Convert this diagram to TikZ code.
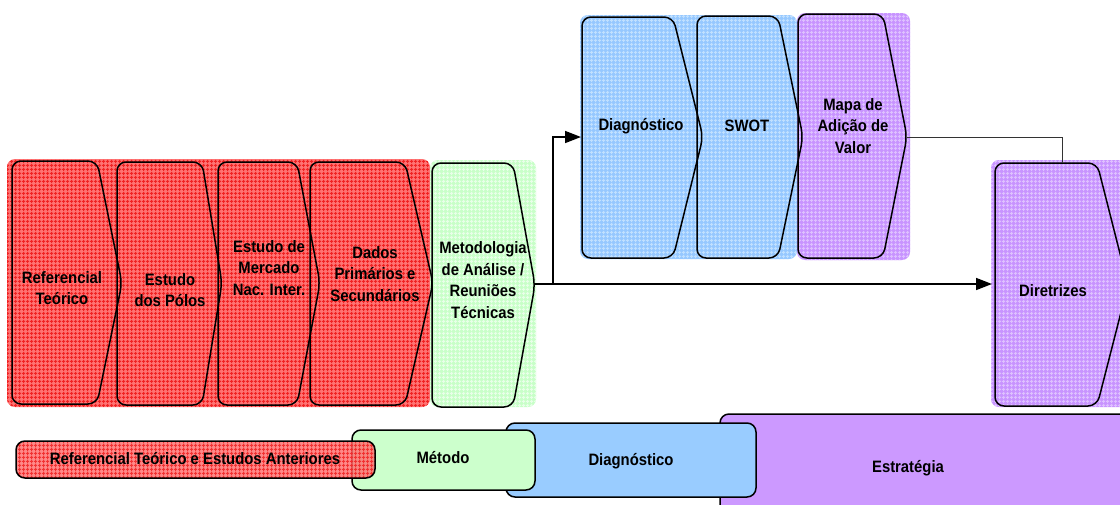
\documentclass[tikz,border=0pt]{standalone}
\usepackage{fontspec}
\setmainfont[FakeStretch=0.9]{Liberation Sans}
\usetikzlibrary{arrows.meta,patterns.meta}
\definecolor{redbase}{RGB}{255,115,115}
\definecolor{redline}{RGB}{240,35,35}
\definecolor{bluebase}{RGB}{150,200,255}
\definecolor{blueline}{RGB}{192,224,255}
\definecolor{purpbase}{RGB}{200,148,255}
\definecolor{purpline}{RGB}{222,192,255}
\definecolor{greenbase}{RGB}{200,255,200}
\definecolor{greenline}{RGB}{232,255,232}
\definecolor{bblue}{RGB}{153,204,255}
\definecolor{bgreen}{RGB}{204,255,204}
\definecolor{bpurp}{RGB}{204,153,255}
\newcommand{\gridbox}[6]{%
  \fill[#5,rounded corners=8pt] (#1,#2) rectangle (#3,#4);
  \fill[pattern={Hatch[angle=0,distance=4pt,line width=1.1pt]},pattern color=#6,rounded corners=8pt] (#1,#2) rectangle (#3,#4);}
\newcommand{\chevshape}[6]{%
  \draw[chev] (#1,#2) -- (#3,#2) -- (#4,#6) -- (#3,#5) -- (#1,#5) -- cycle;}
\tikzset{
  chev/.style={draw=black,line width=1.5pt,rounded corners=9pt},
  lbl/.style={font=\fontsize{16.5}{21.5}\selectfont\bfseries,align=center,inner sep=0pt,text=black},
  bar/.style={draw=black,line width=1.5pt,rounded corners=9pt},
  arr/.style={draw=black,line width=1.6pt,-{Triangle[length=16pt,width=12pt]}},
  thinln/.style={draw=black!80,line width=0.8pt}
}
\begin{document}
\begin{tikzpicture}[x=1pt,y=-1pt]
\useasboundingbox (0,0) rectangle (1120,504);
\clip (0,0) rectangle (1120,504);
% backgrounds
\gridbox{7}{159}{430}{407}{redbase}{redline}
\gridbox{430}{160}{536}{407}{greenbase}{greenline}
\gridbox{580}{15}{797}{259}{bluebase}{blueline}
\gridbox{797}{13}{910}{260}{purpbase}{purpline}
\gridbox{991}{160}{1140}{407}{purpbase}{purpline}
% chevrons
\chevshape{12}{161}{97}{122}{404}{283}
\chevshape{117}{162}{202}{222}{405}{283}
\chevshape{218}{162}{297}{320}{405}{283}
\chevshape{310}{162}{405}{433}{405}{283}
\chevshape{432}{163}{513}{535}{407}{285}
\chevshape{582}{17}{673}{703}{258}{137}
\chevshape{697}{16}{778}{803}{258}{137}
\chevshape{798}{14}{883}{907}{258}{137}
\chevshape{995}{163}{1097}{1128}{406}{285}
% labels
\node[lbl] (ref) at (62,288) {Referencial\\Teórico};
\node[lbl] (polos) at (170,290) {Estudo\\dos Pólos};
\node[lbl] (merc) at (269,268) {Estudo de\\Mercado\\Nac. Inter.};
\node[lbl] (dados) at (375,274) {Dados\\Primários e\\Secundários};
\node[lbl] (metod) at (483,280) {Metodologia\\de Análise /\\Reuniões\\Técnicas};
\node[lbl] (diag) at (641,126) {Diagnóstico};
\node[lbl] (swot) at (747,126) {SWOT};
\node[lbl] (mapa) at (853,126) {Mapa de\\Adição de\\Valor};
\node[lbl] (dir) at (1053,291) {Diretrizes};
% connectors
\coordinate (metTip) at (535,284);
\coordinate (branch) at (553,284);
\coordinate (diagL) at (581,137);
\coordinate (dirL) at (992,284);
\coordinate (mapaTip) at (907,137);
\coordinate (dirTop) at (1062,163);
\draw[arr] (metTip) -- (dirL);
\draw[arr] (branch) |- (diagL);
\draw[thinln] (mapaTip) -| (dirTop);
% bottom bars
\draw[bar,fill=bpurp] (720,414) rectangle (1140,530);
\draw[bar,fill=bblue] (506,423) rectangle (756,497);
\draw[bar,fill=bgreen] (352,430) rectangle (535,490);
\begin{scope}[fill opacity=0.85]
\gridbox{16}{441}{375}{478}{redbase}{redline}
\end{scope}
\draw[bar] (16,441) rectangle (375,478);
\node[lbl] (estr) at (908,468) {Estratégia};
\node[lbl] (bdiag) at (631,461) {Diagnóstico};
\node[lbl] (bmet) at (443,458) {Método};
\node[lbl] (bref) at (195,459) {Referencial Teórico e Estudos Anteriores};
\end{tikzpicture}
\end{document}
